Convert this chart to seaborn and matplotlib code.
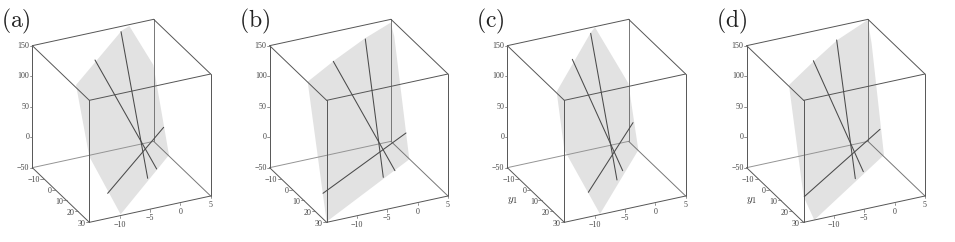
import matplotlib
matplotlib.use('Agg')
from matplotlib import pyplot as plt
import seaborn as sns

# axis ticks
x_ticks = [-10, -5, 0, 5]
y_ticks = [-10, 0, 10, 20, 30]
z_ticks = [-50, 0, 50, 100, 150]
x_range = [-15, 5]
y_range = [-20, 30]
z_range = [-50, 150]

# shaded plane outlines
plane_a_x = [-7.8, -0.27, 0.99, 4.95, -1.87, -9.84, -15]
plane_a_y = [-20, -20, -20, -20, 30, 30, 30]
plane_a_z = [70, 142.8, 147.7, 75.2, 32, -48, 57.7]

plane_b_x = [-8.73, -4.23, 0.71, 4.95, 5.55, -1.37, -15, -15.71]
plane_b_y = [-20, -20, -20, -20, -20, 30, 30, 30]
plane_b_z = [77.4, 103.3, 128.1, 144.6, 120.4, 23.9, -48.9, 4.5]

plane_c_x = [-6.87, -1.26, -0.55, 4.95, -2.8, -9.12, -15]
plane_c_y = [-20, -20, -20, -20, 30, 30, 30]
plane_c_z = [57, 141.6, 148.9, 45.2, 42.2, -49, 68.6]

plane_d_x = [-8.02, -4.29, -0.05, 4.95, 5.6, -1.76, -13.24, -15]
plane_d_y = [-20, -20, -20, -20, -20, 30, 30, 30]
plane_d_z = [70.4, 97.9, 127, 149, 109.3, 31.8, -50, -7.9]

# the three lines in each plane, (start, end)
lines_a_x = [(-0.38, -5.38), (-4.67, -3.9), (-11.98, -2.75)]
lines_a_y = [(-20, 30), (-20, 30), (30, 30)]
lines_a_z = [(141.4, 1.4), (104.2, 13.5), (-9, 79.3)]

lines_b_x = [(0.77, -5.66), (-4.51, -3.74), (-15.6, -1.92)]
lines_b_y = [(-20, 30), (-20, 30), (30, 30)]
lines_b_z = [(126.9, 3.6), (101.7, 10.4), (-1.1, 68.2)]

lines_c_x = [(-1.26, -6.32), (-4.29, -5.38), (-11.04, -3.68)]
lines_c_y = [(-20, 30), (-20, 30), (30, 30)]
lines_c_z = [(140.5, 0.7), (104.5, 13.9), (-9.3, 89)]

lines_d_x = [(-0.16, -6.48), (-4, -5.16), (-14.89, -2.42)]
lines_d_y = [(-20, 30), (-20, 30), (30, 30)]
lines_d_z = [(127.3, 3.2), (101.6, 11.8), (-8.1, 75.3)]

panels = [
    ('(a)', 0, False, plane_a_x, plane_a_y, plane_a_z, lines_a_x, lines_a_y, lines_a_z),
    ('(b)', 237.3, False, plane_b_x, plane_b_y, plane_b_z, lines_b_x, lines_b_y, lines_b_z),
    ('(c)', 475, True, plane_c_x, plane_c_y, plane_c_z, lines_c_x, lines_c_y, lines_c_z),
    ('(d)', 714.3, True, plane_d_x, plane_d_y, plane_d_z, lines_d_x, lines_d_y, lines_d_z),
]


# the box is a parallel projection, screen units are 1/3 pixel
def proj(x, y, z):
    u = x + 15
    w = 30 - y
    sx = 268 + 18.2 * u - 3.42 * w
    sy = 667 - 3.95 * u - 3.28 * w - 1.83 * (z + 50)
    return sx, sy


def segment(ax, p0, p1, color='#555555', lw=0.7, zorder=3):
    sx0, sy0 = proj(*p0)
    sx1, sy1 = proj(*p1)
    sns.lineplot(x=[sx0, sx1], y=[sy0, sy1], ax=ax, color=color, lw=lw, zorder=zorder,
                 estimator=None, sort=False, legend=False)


def tick_text(ax, sx, sy, label, ha):
    ax.text(sx, sy, label.replace('-', '\u2212'), ha=ha, va='center', fontsize=5.8,
            family='Liberation Serif', color='#444444', zorder=5)


sns.set_theme(style='white')
plt.rcParams['mathtext.fontset'] = 'cm'

W, H = 955, 242
fig = plt.figure(figsize=(W / 100, H / 100), dpi=100)

for name, left, show_y, px, py, pz, lx, ly, lz in panels:
    ax = fig.add_axes([left / W, 0, 240 / W, 1])
    ax.patch.set_alpha(0)
    ax.set_xlim(0, 720)
    ax.set_ylim(726, 0)
    ax.axis('off')

    xy = [proj(a, b, c) for a, b, c in zip(px, py, pz)]
    ax.fill([p[0] for p in xy], [p[1] for p in xy], color='#e2e2e2', lw=0, zorder=1)

    x0, x1 = x_range
    y0, y1 = y_range
    z0, z1 = z_range
    # back edges first, lighter
    segment(ax, (x0, y0, z0), (x1, y0, z0), color='#949494', zorder=2)
    segment(ax, (x1, y0, z0), (x1, y1, z0), color='#777777', zorder=2)
    segment(ax, (x1, y0, z0), (x1, y0, z1), color='#777777', zorder=2)
    # everything else
    segment(ax, (x0, y0, z0), (x0, y1, z0))
    segment(ax, (x0, y1, z0), (x1, y1, z0))
    segment(ax, (x0, y0, z1), (x1, y0, z1))
    segment(ax, (x0, y0, z1), (x0, y1, z1))
    segment(ax, (x0, y1, z1), (x1, y1, z1))
    segment(ax, (x1, y0, z1), (x1, y1, z1))
    segment(ax, (x0, y0, z0), (x0, y0, z1))
    segment(ax, (x0, y1, z0), (x0, y1, z1))
    segment(ax, (x1, y1, z0), (x1, y1, z1))

    for xs, ys, zs in zip(lx, ly, lz):
        segment(ax, (xs[0], ys[0], zs[0]), (xs[1], ys[1], zs[1]), color='#4a4a4a', lw=0.75, zorder=4)

    for t in z_ticks:
        sx, sy = proj(x0, y0, t)
        ax.plot([sx - 7, sx], [sy, sy], color='#666666', lw=0.5, zorder=3)
        tick_text(ax, sx - 9, sy, str(t), 'right')
    for t in y_ticks:
        sx, sy = proj(x0, t, z0)
        ax.plot([sx - 10, sx], [sy, sy], color='#666666', lw=0.5, zorder=3)
        tick_text(ax, sx - 11, sy + 5, str(t), 'right')
    for t in x_ticks:
        sx, sy = proj(t, y1, z0)
        ax.plot([sx, sx], [sy, sy + 7], color='#666666', lw=0.5, zorder=3)
        tick_text(ax, sx, sy + 27, str(t), 'center')

    if show_y:
        ax.text(111, 602, r'$y_1$', fontsize=8, ha='center', va='center', color='#333333', zorder=5)
    ax.text(4 if name != '(b)' else 6, 64, r'$\mathrm{%s}$' % name, fontsize=17, ha='left', va='center',
            color='#222222', zorder=5)

fig.savefig('out.png', dpi=100)
